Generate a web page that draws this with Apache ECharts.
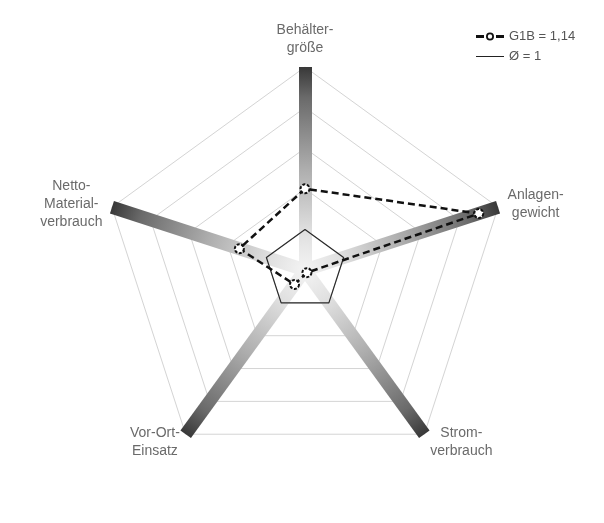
<!DOCTYPE html>
<html>
<head>
<meta charset="utf-8">
<script src="https://cdn.jsdelivr.net/npm/echarts@6/dist/echarts.min.js"></script>
<style>
html,body{margin:0;padding:0;background:#fff;}
#chart{width:604px;height:523px;}
</style>
</head>
<body>
<div id="chart"></div>
<script>
// Indicators in counterclockwise order starting at the top
var indicatorNames = ['Behälter-\ngröße', 'Netto-\nMaterial-\nverbrauch', 'Vor-Ort-\nEinsatz', 'Strom-\nverbrauch', 'Anlagen-\ngewicht'];
var axisMax = 5;
var seriesNames = ['G1B = 1,14', 'Ø = 1'];
var g1bValues = [2.0, 1.7, 0.44, 0.08, 4.5];
var avgValues = [1, 1, 1, 1, 1];

var chart = echarts.init(document.getElementById('chart'));
var CX = 305, CY = 270, R = 203;
var indicators = indicatorNames.map(function (n) { return { name: n, min: 0, max: axisMax }; });
var font = "'Liberation Sans', Arial, sans-serif";

var barGradient = new echarts.graphic.RadialGradient(CX, CY, R, [
  { offset: 0, color: '#f4f4f4' },
  { offset: 0.2, color: '#dedede' },
  { offset: 0.5, color: '#adadad' },
  { offset: 0.85, color: '#6a6a6a' },
  { offset: 1, color: '#383838' }
], true);

var option = {
  backgroundColor: '#fff',
  animation: false,
  legend: {
    orient: 'vertical',
    left: 471,
    top: 25,
    itemWidth: 28,
    itemHeight: 10,
    itemGap: 7,
    textStyle: { fontFamily: font, fontSize: 13, color: '#555' },
    data: [
      { name: seriesNames[0],
        icon: 'path://M0,3.5h8v3H0z M20,3.5h8v3h-8z M10,5A4,4 0 1,1 18,5A4,4 0 1,1 10,5Z M11.8,5A2.2,2.2 0 1,0 16.2,5A2.2,2.2 0 1,0 11.8,5Z',
        itemStyle: { color: '#111', borderWidth: 0 } },
      { name: seriesNames[1],
        icon: 'path://M0,4.5h28v1H0z',
        itemStyle: { color: '#222', borderWidth: 0 } }
    ]
  },
  radar: [
    {
      center: [CX, CY],
      radius: R,
      startAngle: 90,
      shape: 'polygon',
      splitNumber: 5,
      indicator: indicators,
      axisNameGap: 10,
      axisName: {
        color: '#6a6a6a',
        fontFamily: font,
        fontSize: 14,
        lineHeight: 18,
        formatter: function (v) {
          return v.split('\n').map(function (l) { return '{c|' + l + '}'; }).join('\n');
        },
        rich: { c: { align: 'center', color: '#6a6a6a', fontFamily: font, fontSize: 14, lineHeight: 18 } }
      },
      axisLine: { show: false },
      axisTick: { show: false },
      axisLabel: { show: false },
      splitLine: { lineStyle: { color: '#d4d4d4', width: 1 } },
      splitArea: { show: false },
      z: 0
    },
    {
      center: [CX, CY],
      radius: R,
      startAngle: 90,
      shape: 'polygon',
      splitNumber: 5,
      indicator: indicators,
      axisName: { show: false },
      axisLine: { show: true, lineStyle: { color: barGradient, width: 13, cap: 'butt' } },
      axisTick: { show: false },
      axisLabel: { show: false },
      splitLine: { show: false },
      splitArea: { show: false },
      z: 1
    }
  ],
  series: [
    {
      type: 'radar',
      radarIndex: 0,
      z: 5,
      symbol: 'none',
      lineStyle: { color: '#2a2a2a', width: 1.2, type: 'solid' },
      itemStyle: { color: '#2a2a2a' },
      data: [{ name: seriesNames[1], value: avgValues }]
    },
    {
      type: 'radar',
      radarIndex: 0,
      z: 6,
      symbol: 'circle',
      symbolSize: 9,
      lineStyle: { color: '#111', width: 2.5, type: [7, 4] },
      itemStyle: { color: '#fff', borderColor: '#111', borderWidth: 2, borderType: [3, 1.5] },
      data: [{ name: seriesNames[0], value: g1bValues }]
    }
  ]
};
chart.setOption(option);
</script>
</body>
</html>
